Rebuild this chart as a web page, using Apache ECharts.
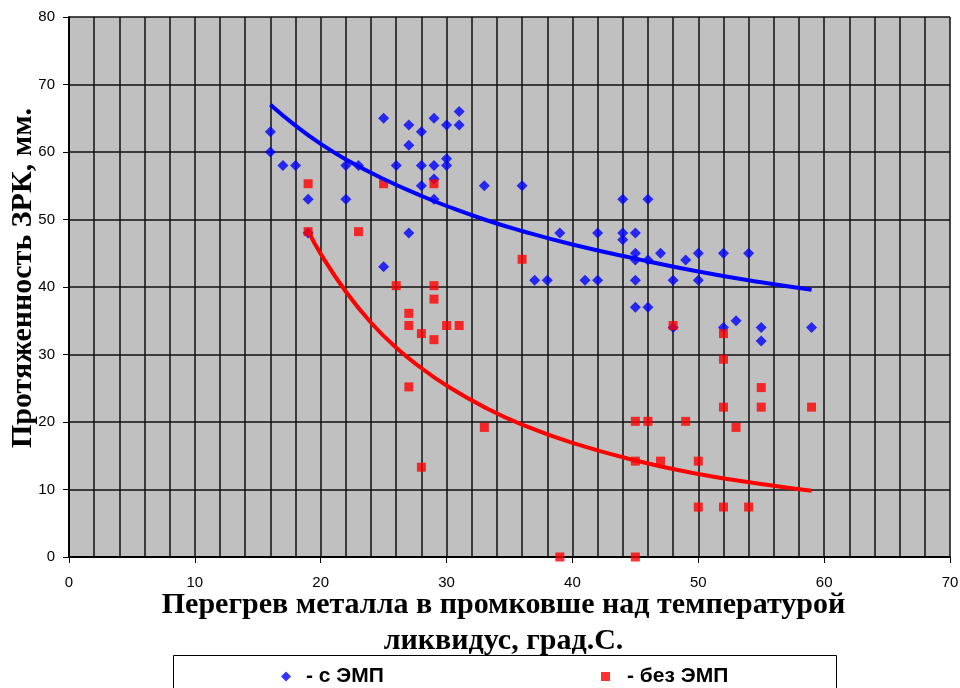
<!DOCTYPE html>
<html>
<head>
<meta charset="utf-8">
<script src="https://cdn.jsdelivr.net/npm/echarts@6/dist/echarts.min.js"></script>
<style>
  html, body { margin: 0; padding: 0; background: #fff; }
  #chart { width: 960px; height: 688px; }
</style>
</head>
<body>
<div id="chart"></div>
<script>
// Measurements with the electromagnetic stirrer: [superheat, length]
const withEmp = [
  [16, 63], [16, 60], [17, 58], [18, 58], [19, 53], [19, 48], [22, 58], [22, 53],
  [23, 58], [25, 65], [25, 43], [26, 58], [27, 64], [27, 61], [27, 48], [28, 63],
  [28, 58], [28, 55], [29, 65], [29, 58], [29, 56], [29, 53], [30, 64], [30, 59],
  [30, 58], [31, 66], [31, 64], [33, 55], [36, 55], [37, 41], [38, 41], [39, 48],
  [41, 41], [42, 48], [42, 41], [44, 53], [44, 48], [44, 47], [45, 48], [45, 45],
  [45, 44], [45, 41], [45, 37], [46, 53], [46, 44], [46, 37], [47, 45], [48, 41],
  [48, 34], [49, 44], [50, 45], [50, 41], [52, 45], [52, 34], [53, 35], [54, 45],
  [55, 34], [55, 32], [59, 34]
];

// Measurements without the stirrer
const withoutEmp = [
  [19, 55.3], [19, 48.2], [23, 48.2], [25, 55.3], [26, 40.2], [27, 36.1], [27, 34.3],
  [27, 25.2], [28, 33.1], [28, 13.3], [29, 55.3], [29, 40.2], [29, 38.2], [29, 32.2],
  [30, 34.3], [31, 34.3], [33, 19.2], [36, 44.1], [39, 0], [45, 20.1], [45, 14.2],
  [45, 0], [46, 20.1], [47, 14.2], [48, 34.3], [49, 20.1], [50, 14.2], [50, 7.4],
  [52, 33.1], [52, 29.3], [52, 22.2], [52, 7.4], [53, 19.2], [54, 7.4], [55, 25.1],
  [55, 22.2], [59, 22.2]
];

// Trend curves
const trendEmpX = [16, 18, 20, 22, 25, 28, 30, 33, 36, 40, 45, 50, 55, 59];
const trendEmpY = [67.0, 63.9, 61.2, 58.9, 56.0, 53.5, 52.0, 50.0, 48.3, 46.3, 44.2, 42.3, 40.7, 39.6];
const trendNoEmpX = [19, 20, 22, 24, 26, 28, 30, 33, 36, 40, 45, 50, 55, 59];
const trendNoEmpY = [48.3, 44.9, 39.3, 34.7, 31.0, 28.0, 25.4, 22.2, 19.6, 16.9, 14.3, 12.3, 10.8, 9.8];

const xTicks = [0, 10, 20, 30, 40, 50, 60, 70];
const yTicks = [0, 10, 20, 30, 40, 50, 60, 70, 80];

const nameEmp = '- с ЭМП';
const nameNoEmp = '- без ЭМП';

const zip = (xs, ys) => xs.map((x, i) => [x, ys[i]]);

const chart = echarts.init(document.getElementById('chart'), null, { renderer: 'canvas' });

const serifBold = { fontFamily: '"Liberation Serif", "Times New Roman", serif', fontWeight: 'bold', fontSize: 30, color: '#000' };
const sansLabel = { fontFamily: '"Liberation Sans", Arial, sans-serif', fontSize: 15, color: '#000' };

chart.setOption({
  animation: false,
  backgroundColor: '#fff',
  grid: {
    left: 69, right: 10, top: 17, bottom: 131,
    outerBoundsMode: 'none',
    containLabel: false,
    show: true, backgroundColor: '#c0c0c0', borderWidth: 0
  },
  xAxis: {
    type: 'value',
    min: xTicks[0], max: xTicks[xTicks.length - 1], interval: 10,
    splitNumber: 5,
    name: 'Перегрев металла в промковше над температурой\nликвидус, град.С.',
    nameLocation: 'middle',
    nameGap: 30,
    nameMoveOverlap: false,
    nameTextStyle: Object.assign({ lineHeight: 36, padding: [0, 12, 0, 0] }, serifBold),
    axisLine: { show: true, onZero: false, lineStyle: { color: '#000', width: 2 } },
    axisTick: { show: true, length: 6, lineStyle: { color: '#000', width: 1 } },
    axisLabel: Object.assign({ margin: 18 }, sansLabel),
    splitLine: { show: true, lineStyle: { color: '#111', width: 1.5 } },
    minorTick: { show: false, splitNumber: 5 },
    minorSplitLine: { show: true, lineStyle: { color: '#111', width: 1.5 } }
  },
  yAxis: {
    type: 'value',
    min: yTicks[0], max: yTicks[yTicks.length - 1], interval: 10,
    name: 'Протяженность ЗРК, мм.',
    nameLocation: 'middle',
    nameGap: 31,
    nameMoveOverlap: false,
    nameRotate: 90,
    nameTextStyle: Object.assign({ padding: [0, 0, 0, 18] }, serifBold),
    axisLine: { show: true, onZero: false, lineStyle: { color: '#000', width: 2 } },
    axisTick: { show: true, length: 6, lineStyle: { color: '#000', width: 1 } },
    axisLabel: Object.assign({ margin: 14 }, sansLabel),
    splitLine: { show: true, lineStyle: { color: '#111', width: 1.5 } }
  },
  legend: [
    {
      data: [{ name: nameEmp, icon: 'diamond' }],
      left: 276, top: 661,
      itemWidth: 10, itemHeight: 10,
      textStyle: { fontFamily: '"Liberation Sans", Arial, sans-serif', fontWeight: 'bold', fontSize: 21, color: '#000', padding: [0, 0, 0, 10] }
    },
    {
      data: [{ name: nameNoEmp, icon: 'rect' }],
      left: 596, top: 661,
      itemWidth: 9, itemHeight: 9,
      textStyle: { fontFamily: '"Liberation Sans", Arial, sans-serif', fontWeight: 'bold', fontSize: 21, color: '#000', padding: [0, 0, 0, 12] }
    }
  ],
  graphic: [
    {
      type: 'rect', z: -1,
      shape: { x: 173.5, y: 655.5, width: 663, height: 50 },
      style: { fill: '#fff', stroke: '#000', lineWidth: 1 }
    }
  ],
  series: [
    {
      name: nameEmp,
      type: 'scatter',
      symbol: 'diamond',
      symbolSize: [11, 11],
      itemStyle: { color: '#0000ff' },
      data: withEmp,
      z: 3
    },
    {
      name: nameNoEmp,
      type: 'scatter',
      symbol: 'rect',
      symbolSize: 9,
      itemStyle: { color: '#ff0000' },
      data: withoutEmp,
      z: 4
    },
    {
      name: 'trend-emp',
      type: 'line',
      smooth: true,
      showSymbol: false,
      symbol: 'none',
      lineStyle: { color: '#0000ff', width: 4 },
      data: zip(trendEmpX, trendEmpY),
      z: 5
    },
    {
      name: 'trend-noemp',
      type: 'line',
      smooth: true,
      showSymbol: false,
      symbol: 'none',
      lineStyle: { color: '#ff0000', width: 4 },
      data: zip(trendNoEmpX, trendNoEmpY),
      z: 5
    }
  ]
});
</script>
</body>
</html>
